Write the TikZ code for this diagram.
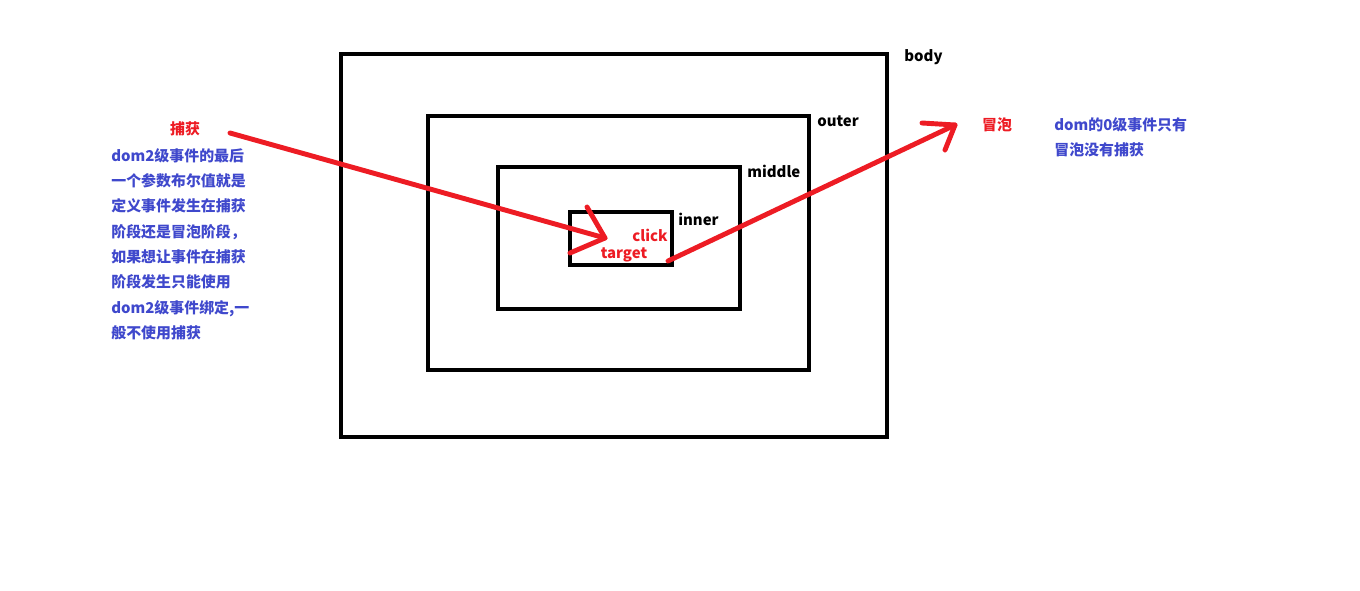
\documentclass[tikz,border=0pt]{standalone}
\usepackage{fontspec}
\usepackage{tikz}
\newfontfamily\cjk{Noto Sans CJK SC}
\definecolor{paintred}{HTML}{ED1C24}
\definecolor{paintblue}{HTML}{3F48CC}
\tikzset{
  font={\cjk\bfseries\fontsize{8.5pt}{14.4pt}\selectfont}}

\begin{document}
\begin{tikzpicture}[x=0.02cm,y=-0.02cm]
\tikzstyle{every node}+=[inner sep=0pt]
\tikzstyle{box}=[black,line width=2.3pt]
\tikzstyle{redline}=[paintred,line width=2.8pt,line cap=round,line join=round]
\tikzstyle{redtext}=[text=paintred]
\tikzstyle{bluetext}=[text=paintblue,align=left,anchor=north west]
\useasboundingbox (0,0) rectangle (1360,591);
% nested boxes
\draw [box] (341,54) rectangle (887,437);
\draw (904,57) node [anchor=west] (bodylbl) {body};
\draw [box] (428,116) rectangle (809,370);
\draw (817,121) node [anchor=west] (outerlbl) {outer};
\draw [box] (498,167) rectangle (740,309);
\draw (747,171) node [anchor=west] (middlelbl) {middle};
\draw [box] (570,212) rectangle (672,265);
\draw (678,219) node [anchor=west] (innerlbl) {inner};
% capture arrow
\coordinate (capstart) at (230,133);
\coordinate (captip) at (605,238);
\draw [redline] (capstart) -- (captip);
\draw [redline] (587,207) -- (captip) -- (570,253);
\draw (185,129) node [redtext] (capture) {捕获};
\draw (650,235) node [redtext] (click) {click};
\draw (624,255) node [redtext] (target) {target};
% bubble arrow
\coordinate (bubstart) at (668,261);
\coordinate (bubtip) at (955,125);
\draw [redline] (bubstart) -- (bubtip);
\draw [redline] (922,123) -- (bubtip) -- (945,150);
\draw (997,125) node [redtext] (bubble) {冒泡};
% notes
\draw (111,148) node [bluetext] (capnote) {dom2级事件的最后\\一个参数布尔值就是\\定义事件发生在捕获\\阶段还是冒泡阶段，\\如果想让事件在捕获\\阶段发生只能使用\\dom2级事件绑定,一\\般不使用捕获};
\draw (1054,117) node [bluetext] (bubnote) {dom的0级事件只有\\冒泡没有捕获};
\end{tikzpicture}
\end{document}
